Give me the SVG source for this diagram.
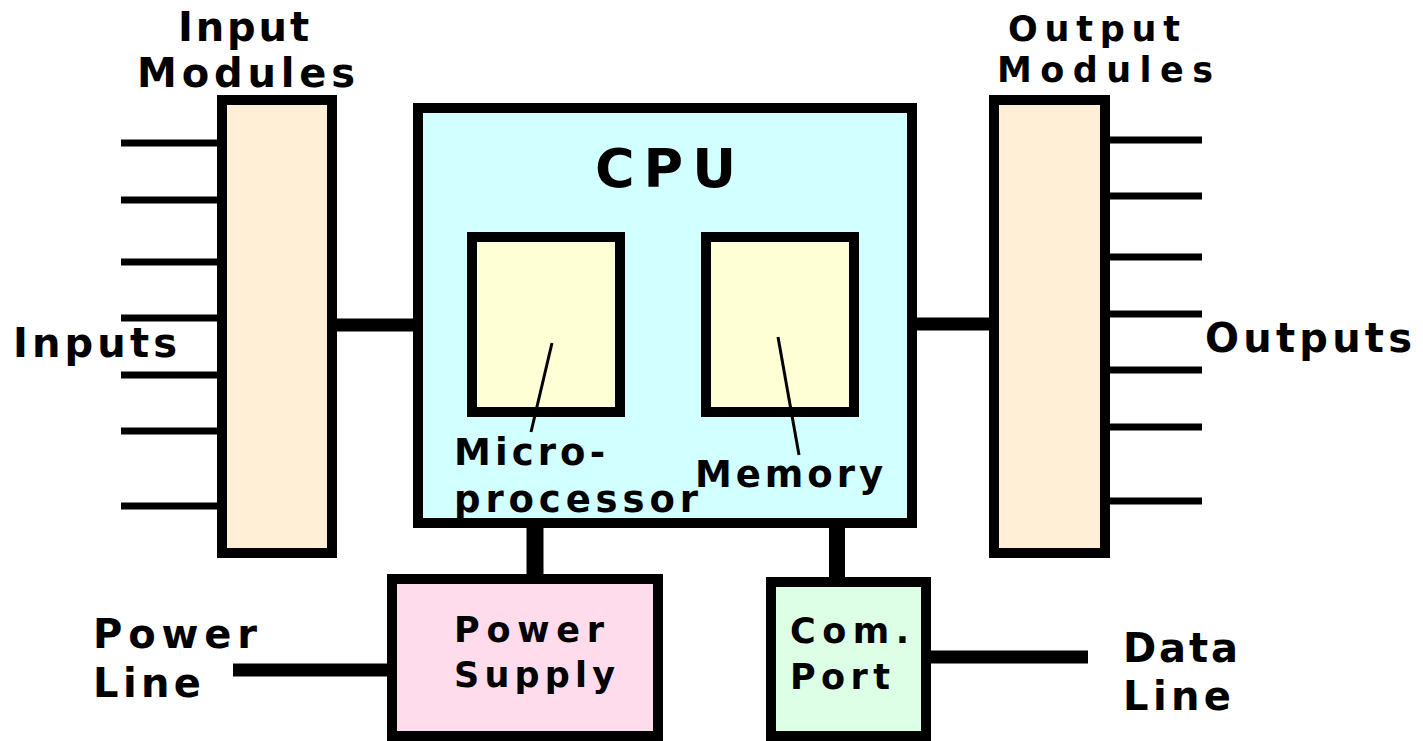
<svg xmlns="http://www.w3.org/2000/svg" width="1423" height="741" viewBox="0 0 1423 741">
<style>
.box{stroke:#000;stroke-width:10}
.t{font-family:"DejaVu Sans","Liberation Sans",Arial,sans-serif;font-weight:bold;fill:#000}
.lbl{font-size:40px}
.sm{font-size:35px}
.mid{font-size:37px}
.pin{stroke:#000;stroke-width:7}
.bus{stroke:#000;stroke-width:13}
.lead{stroke:#000;stroke-width:3}
</style>
<rect width="1423" height="741" fill="#fff"/>
<g id="connectors">
<g class="pin">
<line x1="121" y1="143" x2="217" y2="143"/>
<line x1="121" y1="200" x2="217" y2="200"/>
<line x1="121" y1="262" x2="217" y2="262"/>
<line x1="121" y1="318" x2="217" y2="318"/>
<line x1="121" y1="375" x2="217" y2="375"/>
<line x1="121" y1="431" x2="217" y2="431"/>
<line x1="121" y1="506" x2="217" y2="506"/>
<line x1="1110" y1="140" x2="1202" y2="140"/>
<line x1="1110" y1="196" x2="1202" y2="196"/>
<line x1="1110" y1="257" x2="1202" y2="257"/>
<line x1="1110" y1="314" x2="1202" y2="314"/>
<line x1="1110" y1="370" x2="1202" y2="370"/>
<line x1="1110" y1="427" x2="1202" y2="427"/>
<line x1="1110" y1="501" x2="1202" y2="501"/>
</g>
<line class="bus" x1="337" y1="325" x2="413" y2="325"/>
<line class="bus" x1="917" y1="324" x2="989" y2="324"/>
<line class="bus" x1="233" y1="670" x2="387" y2="670"/>
<line class="bus" x1="931" y1="657" x2="1088" y2="657"/>
<line stroke="#000" stroke-width="17" x1="535" y1="527" x2="535" y2="575"/>
<line stroke="#000" stroke-width="16" x1="837" y1="527" x2="837" y2="578"/>
</g>
<g id="input-modules">
<rect class="box" x="222" y="100" width="110" height="453" fill="#FFEFD6"/>
<text class="t lbl" x="178" y="41" textLength="131" lengthAdjust="spacing">Input</text>
<text class="t lbl" x="137" y="87" textLength="218" lengthAdjust="spacing">Modules</text>
<text class="t lbl" x="13" y="357" textLength="164" lengthAdjust="spacing">Inputs</text>
</g>
<g id="output-modules">
<rect class="box" x="994" y="100" width="111" height="453" fill="#FFEFD6"/>
<text class="t" font-size="35" x="1008" y="41" textLength="172" lengthAdjust="spacing">Output</text>
<text class="t" font-size="35" x="997" y="82" textLength="216" lengthAdjust="spacing">Modules</text>
<text class="t lbl" x="1205" y="352" textLength="207" lengthAdjust="spacing">Outputs</text>
</g>
<g id="cpu">
<rect class="box" x="418" y="108" width="494" height="415" fill="#D2FFFF"/>
<text class="t" font-size="54" x="595" y="187" textLength="141" lengthAdjust="spacing">CPU</text>
</g>
<g id="microprocessor">
<rect class="box" x="472" y="237" width="148" height="175" fill="#FFFFD6"/>
<line class="lead" x1="552" y1="343" x2="531" y2="432"/>
<text class="t mid" x="454" y="465" textLength="151" lengthAdjust="spacing">Micro-</text>
<text class="t mid" x="454" y="512" textLength="244" lengthAdjust="spacing">processor</text>
</g>
<g id="memory">
<rect class="box" x="706" y="237" width="148" height="175" fill="#FFFFD6"/>
<line class="lead" x1="778" y1="337" x2="799" y2="455"/>
<text class="t mid" x="695" y="487" textLength="188" lengthAdjust="spacing">Memory</text>
</g>
<g id="power-supply">
<rect class="box" x="392" y="579" width="266" height="157" fill="#FFDCEC"/>
<text class="t sm" x="454" y="642" textLength="150" lengthAdjust="spacing">Power</text>
<text class="t sm" x="454" y="687" textLength="161" lengthAdjust="spacing">Supply</text>
</g>
<g id="com-port">
<rect class="box" x="771" y="582" width="155" height="154" fill="#DDFFE6"/>
<text class="t sm" x="790" y="643" textLength="119" lengthAdjust="spacing">Com.</text>
<text class="t sm" x="790" y="689" textLength="100" lengthAdjust="spacing">Port</text>
</g>
<g id="power-line">
<text class="t lbl" x="93" y="648" textLength="164" lengthAdjust="spacing">Power</text>
<text class="t lbl" x="93" y="697" textLength="108" lengthAdjust="spacing">Line</text>
</g>
<g id="data-line">
<text class="t lbl" x="1123" y="662" textLength="115" lengthAdjust="spacing">Data</text>
<text class="t lbl" x="1123" y="710" textLength="108" lengthAdjust="spacing">Line</text>
</g>
</svg>
